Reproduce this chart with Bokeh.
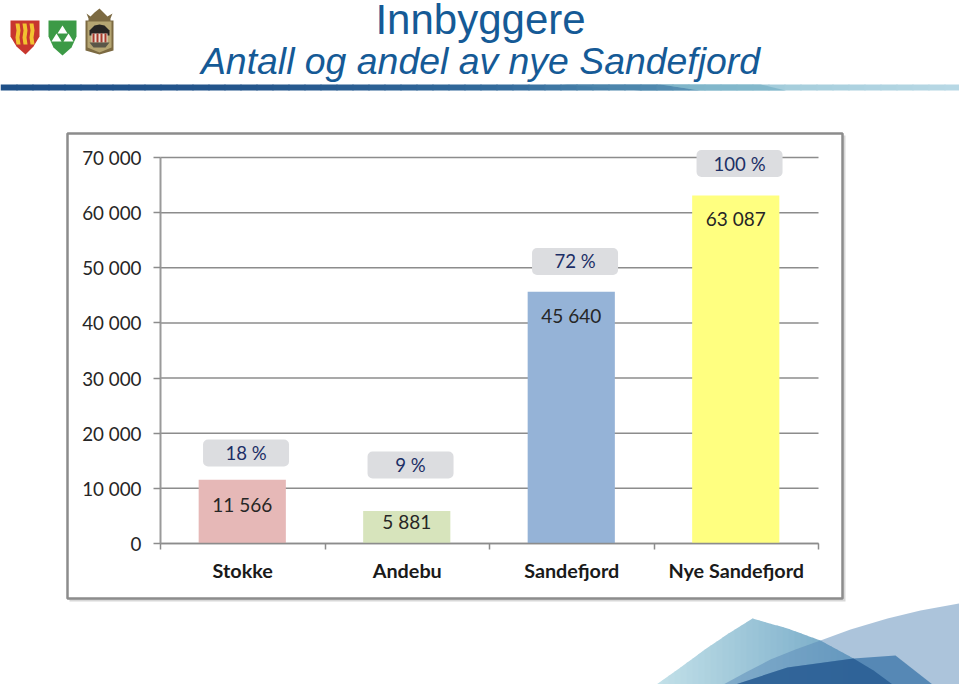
import numpy as np
from bokeh.embed import file_html
from bokeh.resources import INLINE
from bokeh.plotting import figure
from bokeh.core.properties import value
from bokeh.models import (ColumnDataSource, FixedTicker, Label, PolyAnnotation, Range1d)

categories = ["Stokke", "Andebu", "Sandefjord", "Nye Sandefjord"]
inhabitants = [11566, 5881, 45640, 63087]
label_levels = [7073, 3990, 41348, 58939]
shares = ["18 %", "9 %", "72 %", "100 %"]
bar_colors = ["#e6b8b7", "#d7e4bc", "#95b3d7", "#ffff80"]
share_levels = [16400, 14250, 51150, 68900]
y_ticks = [0, 10000, 20000, 30000, 40000, 50000, 60000, 70000]
y_tick_labels = ["0", "10 000", "20 000", "30 000", "40 000", "50 000", "60 000", "70 000"]

W, H = 959, 684
L, R, B = 160, 818, 543
per_px = 70000 / 386.0
per_cat = (R - L) / len(categories)

p = figure(width=W, height=H, output_backend="svg", toolbar_location=None,
           x_range=Range1d(-L / per_cat, (W - L) / per_cat),
           y_range=Range1d((B - H) * per_px, B * per_px),
           min_border=0, background_fill_color="white", border_fill_color="white",
           outline_line_color=None)


def poly(xs, ys, fill, alpha=1.0, line=None, lw=0, level="underlay"):
    p.add_layout(PolyAnnotation(xs=list(xs), ys=list(ys), xs_units="canvas", ys_units="canvas",
                                fill_color=fill, fill_alpha=alpha, line_color=line, line_alpha=1.0,
                                line_width=lw, level=level, editable=False))


def lerp(a, b, t):
    return "#%02x%02x%02x" % tuple(int(round(a[i] + (b[i] - a[i]) * t)) for i in range(3))


# header band
stops_x = [0, 250, 500, 640, 700, 783, 959]
stops_c = [(0x1f, 0x50, 0x88), (0x24, 0x56, 0x8c), (0x33, 0x6b, 0x9c), (0x50, 0x8a, 0xae),
           (0x8a, 0xbc, 0xcf), (0xa5, 0xcd, 0xdc), (0xb8, 0xd8, 0xe5)]
for x0 in np.arange(0, W, 16):
    t = x0 + 8
    c = tuple(np.interp(t, stops_x, [s[k] for s in stops_c]) for k in range(3))
    poly([x0, x0 + 17, x0 + 17, x0], [84, 84, 90, 90], lerp(c, c, 0))
poly([560, 660, 700, 640], [84, 84, 90, 90], "#4c86ac", 0.75)
poly([660, 760, 785, 700], [84, 84, 90, 90], "#7fb6ca", 0.9)

# swooshes at the lower right
top_x = [656, 680, 703, 728, 752, 787, 820, 853, 873, 892]
top_y = [684, 667, 650, 633, 618, 628, 640, 658, 670, 684]
c0, c1 = (0xc2, 0xe0, 0xe8), (0x5f, 0x9a, 0xbe)
for x0 in np.arange(656, 892, 6):
    xa, xb = x0, min(x0 + 7, 892)
    xm = [v for v in top_x if xa < v < xb]
    xs = [xa] + xm + [xb]
    ys = list(np.interp(xs, top_x, top_y))
    poly(xs + [xb, xa], ys + [684, 684], lerp(c0, c1, (x0 - 656) / 236))
big_x = [723, 745, 770, 795, 820, 850, 887, 920, 959, 959]
big_y = [684, 672, 659, 649, 640, 629, 618, 610, 603, 684]
poly(big_x, big_y, "#5a8ab8", 0.5)
poly([735, 787, 853, 895, 932], [684, 667, 658, 655, 684], "#3a74a8", 0.75)
poly([735, 787, 853, 873, 892], [684, 667, 658, 670, 684], "#1f4f86", 0.55)

# municipal shields
poly([10, 39, 39, 33, 25, 16, 10], [20, 20, 36, 46, 54, 46, 36], "#c8362e")
for sx in [15, 22, 29]:
    poly([sx, sx + 4, sx + 5, sx + 4, sx + 5, sx + 1, sx, sx + 1],
         [23, 23, 30, 37, 44, 44, 37, 30], "#f2c230")
poly([48, 76, 76, 71, 62, 53, 48], [20, 20, 36, 47, 55, 47, 36], "#3c9a46")
poly([62, 67, 57], [25, 33, 33], "#ffffff")
poly([56, 61, 51], [33, 41, 41], "#ffffff")
poly([68, 73, 63], [33, 41, 41], "#ffffff")
poly([86, 90, 94, 99, 103, 107, 112, 110, 110, 113, 113, 99, 85, 85, 88, 88],
     [13, 16, 12, 8, 12, 16, 13, 18, 20, 20, 50, 54, 50, 20, 20, 18], "#7c6a42")
poly([87, 111, 111, 99, 87], [21, 21, 47, 52, 47], "#b5a572")
poly([89, 94, 99, 104, 109, 109, 89], [30, 25, 24, 25, 30, 35, 35], "#262422")
poly([91, 107, 107, 91], [33, 33, 42, 42], "#e7ddd2")
for sx in [92, 96, 100, 104]:
    poly([sx, sx + 2, sx + 2, sx], [33, 33, 42, 42], "#a83a2c")
poly([89, 109, 105, 93], [42, 42, 47, 47], "#5a5648")

# chart panel: soft shadow, then white card with grey border
poly([69, 845, 845, 69], [135, 135, 601, 601], "#c8c8c8", 0.7)
poly([67, 842, 842, 67], [133, 133, 598, 598], "#ffffff", 1.0, "#8c8c8c", 2.5)

# data
x_pos = [i + 0.5 for i in range(len(categories))]
bar_pos = [i + 0.497 for i in range(len(categories))]
src = ColumnDataSource(dict(
    x=bar_pos, top=inhabitants, ly=label_levels, color=bar_colors,
    text=[f"{v:,}".replace(",", " ") for v in inhabitants],
    sx=[i + 0.52 for i in range(len(categories))], sy=share_levels, share=shares))
p.segment(x0=[0] * len(y_ticks), x1=[len(categories)] * len(y_ticks), y0=y_ticks, y1=y_ticks,
          line_color="#8c8c8c", line_width=1.5)
p.vbar(x="x", top="top", width=0.53, bottom=0, fill_color="color", line_color=None, source=src)
p.text(x="x", y="ly", text="text", source=src, text_align="center",
       text_baseline="middle", text_color="#262626", text_font=value("Lato"), text_font_size="19px")
p.rect(x="sx", y="sy", width=86, height=27, width_units="screen", height_units="screen",
       fill_color="#dcdde0", line_color=None, border_radius=5, source=src)
p.text(x="sx", y="sy", text="share", source=src, text_align="center", text_baseline="middle",
       text_color="#1c2f66", text_font=value("Lato"), text_font_size="18.6px")

# axes
ax = p.yaxis[0]
ax.fixed_location = 0
ax.ticker = FixedTicker(ticks=y_ticks)
ax.major_label_overrides = dict(zip(y_ticks, y_tick_labels))
ax.major_label_text_font = "Lato"
ax.major_label_text_font_size = "18.8px"
ax.major_label_text_color = "#262626"
ax.major_label_standoff = 12
ax.axis_line_color = "#9a9a9a"
ax.axis_line_width = 2
ax.major_tick_line_color = "#8c8c8c"
ax.major_tick_line_width = 1.5
ax.major_tick_in = 0
ax.major_tick_out = 7
ax.minor_tick_line_color = None
ax.bounds = (0, 70000)

bx = p.xaxis[0]
bx.fixed_location = 0
bx.ticker = FixedTicker(ticks=x_pos, minor_ticks=list(range(len(categories) + 1)))
bx.major_label_overrides = dict(zip(x_pos, categories))
bx.major_label_text_font = "Lato"
bx.major_label_text_font_style = "bold"
bx.major_label_text_font_size = "19.8px"
bx.major_label_text_color = "#1a1a1a"
bx.major_label_standoff = 8
bx.axis_line_color = "#8c8c8c"
bx.axis_line_width = 1.5
bx.major_tick_line_color = None
bx.minor_tick_line_color = "#8c8c8c"
bx.minor_tick_line_width = 1.5
bx.minor_tick_in = 0
bx.minor_tick_out = 6
bx.bounds = (0, len(categories))

p.xgrid.visible = False
p.ygrid.visible = False

# titles
p.add_layout(Label(x=480, y=19, x_units="canvas", y_units="canvas", text="Innbyggere",
                   text_align="center", text_baseline="middle", text_font="Liberation Sans",
                   text_font_size="42px", text_color="#155a96"))
p.add_layout(Label(x=480, y=60, x_units="canvas", y_units="canvas",
                   text="Antall og andel av nye Sandefjord",
                   text_align="center", text_baseline="middle", text_font="Liberation Sans",
                   text_font_style="italic", text_font_size="37.4px", text_color="#155a96"))

open("out.html", "w").write(file_html(p, INLINE))
